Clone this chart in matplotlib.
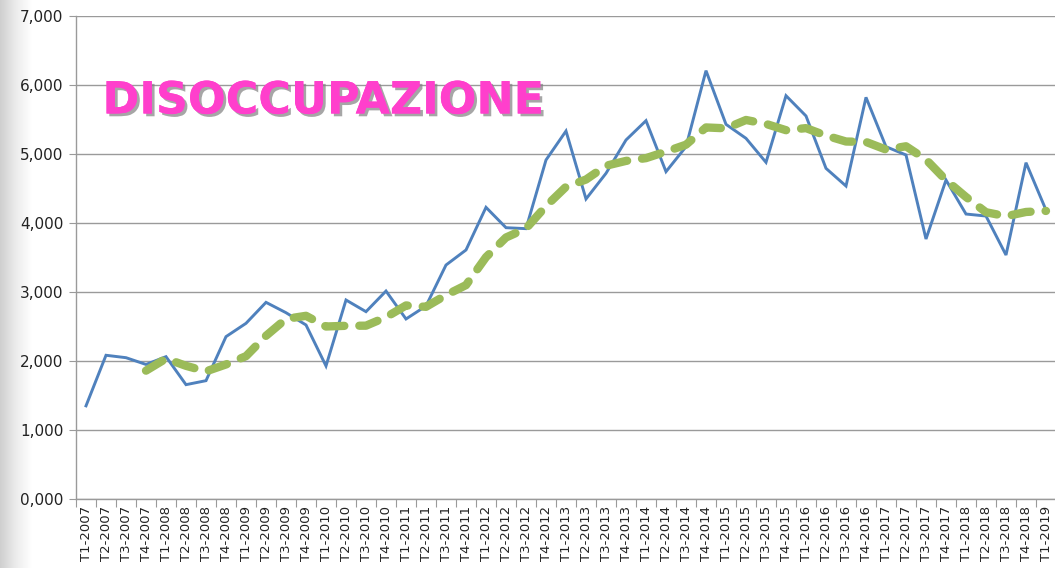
import numpy as np
import matplotlib
matplotlib.use("Agg")
import matplotlib.pyplot as plt
import matplotlib.patheffects as pe

# quarters T1-2007 .. T1-2019
years = list(range(2007, 2020))
quarters = [f"T{q}-{y}" for y in years for q in range(1, 5)][:49]

disoccupati = [
    1350, 2083, 2048, 1950, 2063, 1657, 1715, 2353, 2546, 2850, 2700, 2522,
    1928, 2884, 2715, 3014, 2609, 2797, 3391, 3609, 4227, 3932, 3918, 4913,
    5333, 4348, 4720, 5203, 5483, 4744, 5106, 6208, 5430, 5227, 4879, 5845,
    5551, 4792, 4536, 5821, 5106, 4986, 3768, 4623, 4130, 4101, 3536, 4874,
    4188,
]

# trend line (media mobile), starts at T4-2007
trend_start = 3
trend = [
    1860, 2035, 1930, 1850, 1950, 2070, 2365, 2610, 2655, 2500, 2510, 2512,
    2635, 2805, 2785, 2955, 3100, 3505, 3790, 3920, 4245, 4525, 4630, 4830,
    4900, 4940, 5035, 5135, 5385, 5372, 5493, 5436, 5345, 5375, 5267, 5181,
    5175, 5064, 5112, 4920, 4621, 4377, 4156, 4098, 4160, 4175,
]

yticks = [0, 1000, 2000, 3000, 4000, 5000, 6000, 7000]
ylabels = ["0,000", "1,000", "2,000", "3,000", "4,000", "5,000", "6,000", "7,000"]

W, H = 1055, 568
fig = plt.figure(figsize=(W / 100, H / 100), dpi=100)
fig.patch.set_facecolor("white")

# faint grey slide edge on the left
bg = fig.add_axes([0, 0, 32 / W, 1], zorder=-5)
grad = np.linspace(0, 1, 64).reshape(1, -1)
bg.imshow(grad, aspect="auto", cmap=matplotlib.colors.LinearSegmentedColormap.from_list(
    "edge", ["#cfcfcf", "#ececec", "#ffffff"]), extent=[0, 1, 0, 1])
bg.axis("off")

ax = fig.add_axes([76 / W, 69 / H, 980 / W, 483 / H])
ax.set_facecolor("none")

x = np.arange(len(quarters))
ax.plot(x, disoccupati, color="#4F81BD", lw=2.1, zorder=3, solid_joinstyle="miter")
xt = np.arange(trend_start, trend_start + len(trend))
ax.plot(xt, trend, color="#9BBB59", lw=6.0, zorder=4,
        dashes=(2.3, 1.8), dash_capstyle="round", solid_capstyle="round")

ax.set_xlim(-0.5, len(quarters) - 0.5)
ax.set_ylim(0, 7000)

ax.set_yticks(yticks)
ax.set_yticklabels(ylabels, fontsize=11, color="#222222")
ax.tick_params(axis="y", length=5, color="#9a9a9a", pad=4)
ax.grid(axis="y", color="#9a9a9a", lw=1.0, zorder=0)

ax.set_xticks(np.arange(-0.5, len(quarters)), minor=False)
ax.set_xticklabels([])
ax.set_xticks(x, minor=True)
ax.set_xticklabels(quarters, minor=True, rotation=90, fontsize=9.5, color="#222222")
ax.tick_params(axis="x", which="major", length=6, color="#9a9a9a")
ax.tick_params(axis="x", which="minor", length=0, pad=5)

for s in ["top", "right"]:
    ax.spines[s].set_visible(False)
for s in ["left", "bottom"]:
    ax.spines[s].set_color("#9a9a9a")
    ax.spines[s].set_linewidth(1.0)

ax.text(0.027, 0.824, "DISOCCUPAZIONE", transform=ax.transAxes,
        fontsize=32, fontweight="heavy", color="#FF3FCC", va="center", ha="left",
        path_effects=[pe.withSimplePatchShadow(offset=(2, -2), shadow_rgbFace="#808080", alpha=0.7),
                      pe.Normal()])

fig.savefig("out.png", dpi=100)
